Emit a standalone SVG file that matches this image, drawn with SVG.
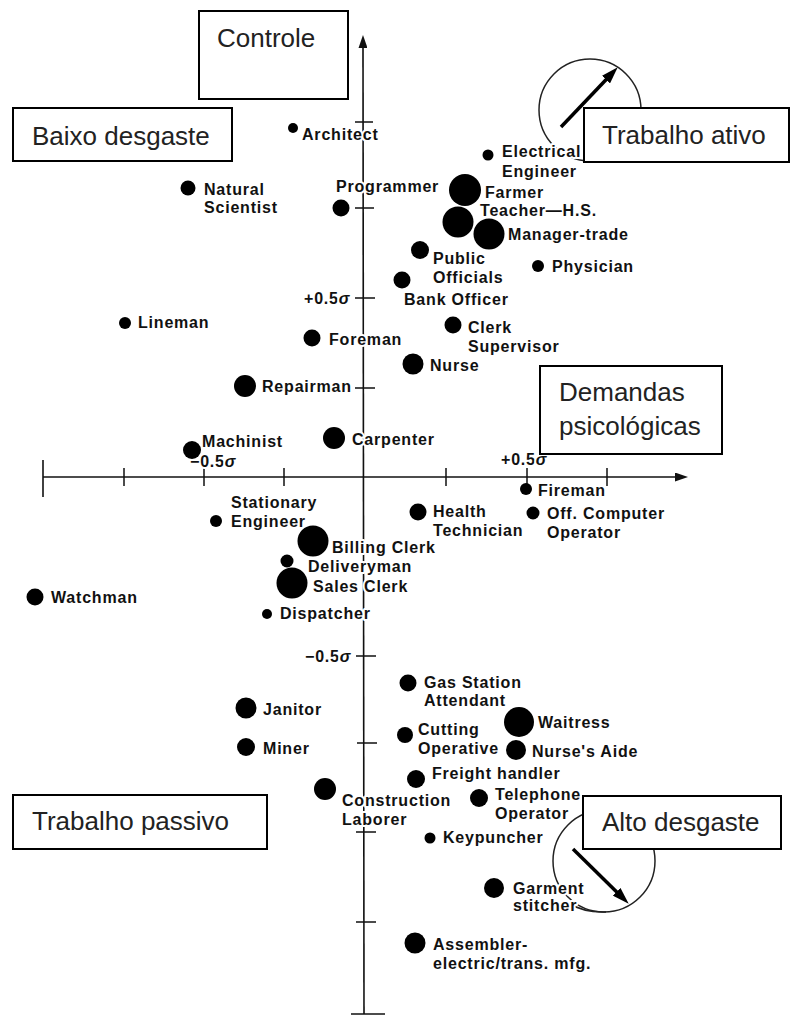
<svg xmlns="http://www.w3.org/2000/svg" width="792" height="1017" viewBox="0 0 792 1017">
<style>
.lbl{font-family:"Liberation Sans",Arial,sans-serif;font-size:16px;font-weight:bold;letter-spacing:0.8px;fill:#111;stroke:#fff;stroke-width:4px;stroke-linejoin:round;paint-order:stroke}
.dot{fill:#000}
.ax{stroke:#111;stroke-width:1.6;fill:none}
.tk{stroke:#111;stroke-width:1.5;fill:none}
.ring{stroke:#222;stroke-width:1.5;fill:none}
.thick{stroke:#000;stroke-width:3.5;fill:none}
.box rect{fill:#fff;stroke:#000;stroke-width:2}
.bt{font-family:"Liberation Sans",Arial,sans-serif;font-size:26px;fill:#222}
.sig{font-style:italic}
</style>
<defs>
<marker id="axh" markerUnits="userSpaceOnUse" markerWidth="13" markerHeight="9" refX="1" refY="4.5" orient="auto"><path d="M0,0 L13,4.5 L0,9 z" fill="#111"/></marker>
<marker id="thh" markerUnits="userSpaceOnUse" markerWidth="17" markerHeight="11" refX="2" refY="5.5" orient="auto"><path d="M0,0 L17,5.5 L0,11 z" fill="#000"/></marker>
</defs>
<rect width="792" height="1017" fill="#fff"/>
<g id="axes">
<line class="ax" x1="364" y1="1014" x2="363" y2="47" marker-end="url(#axh)"/>
<line class="ax" x1="43" y1="477" x2="676" y2="477" marker-end="url(#axh)"/>
<line class="ax" x1="43" y1="460" x2="43" y2="497" stroke-width="2"/>
<line class="ax" x1="351" y1="1014" x2="385" y2="1014" stroke-width="2"/>
<path class="tk" d="M124,468V486 M204,468V486 M284,468V486 M446,468V486 M527,468V486 M607,468V486"/>
<path class="tk" d="M355,122H373 M355,208H374 M355,298H375 M355,388H375 M356,656H376 M357,743H377 M356,832H376 M356,922H376"/>
<text class="lbl" x="304" y="304">+0.5<tspan class="sig">σ</tspan></text>
<text class="lbl" x="305" y="662">−0.5<tspan class="sig">σ</tspan></text>
<text class="lbl" x="190" y="467">−0.5<tspan class="sig">σ</tspan></text>
<text class="lbl" x="501" y="465">+0.5<tspan class="sig">σ</tspan></text>
</g>
<g id="connectors">
<circle class="ring" cx="590" cy="110" r="51"/>
<line class="thick" x1="561" y1="127" x2="607.4" y2="78.2" marker-end="url(#thh)"/>
<circle class="ring" cx="604" cy="861" r="51"/>
<path class="ring" d="M568,903 Q585,913 606,912"/>
<line class="thick" x1="573" y1="849" x2="618" y2="893.2" marker-end="url(#thh)"/>
</g>
<g id="n-architect"><text class="lbl" x="302" y="140">Architect</text><circle class="dot" cx="293" cy="128" r="5"/></g>
<g id="n-natural-scientist"><text class="lbl" x="204" y="195">Natural<tspan x="204" dy="18">Scientist</tspan></text><circle class="dot" cx="188" cy="188" r="7.5"/></g>
<g id="n-programmer"><text class="lbl" x="336" y="192">Programmer</text><circle class="dot" cx="341" cy="208" r="8.5"/></g>
<g id="n-electrical-engineer"><text class="lbl" x="502" y="157">Electrical<tspan x="502" dy="20">Engineer</tspan></text><circle class="dot" cx="488" cy="155" r="5.5"/></g>
<g id="n-farmer"><text class="lbl" x="485" y="198">Farmer</text><circle class="dot" cx="465" cy="190" r="16"/></g>
<g id="n-teacher"><text class="lbl" x="480" y="216">Teacher—H.S.</text><circle class="dot" cx="458" cy="222" r="15.5"/></g>
<g id="n-manager-trade"><text class="lbl" x="508" y="240">Manager-trade</text><circle class="dot" cx="489" cy="234" r="15.5"/></g>
<g id="n-public-officials"><text class="lbl" x="433" y="264">Public<tspan x="433" dy="19">Officials</tspan></text><circle class="dot" cx="420" cy="250" r="9"/></g>
<g id="n-bank-officer"><text class="lbl" x="404" y="305">Bank Officer</text><circle class="dot" cx="402" cy="280" r="8.5"/></g>
<g id="n-physician"><text class="lbl" x="552" y="272">Physician</text><circle class="dot" cx="538" cy="266" r="6"/></g>
<g id="n-lineman"><text class="lbl" x="138" y="328">Lineman</text><circle class="dot" cx="125" cy="323" r="6"/></g>
<g id="n-clerk-supervisor"><text class="lbl" x="468" y="333">Clerk<tspan x="468" dy="19">Supervisor</tspan></text><circle class="dot" cx="453" cy="325" r="8.5"/></g>
<g id="n-foreman"><text class="lbl" x="329" y="345">Foreman</text><circle class="dot" cx="312" cy="338" r="8.5"/></g>
<g id="n-nurse"><text class="lbl" x="430" y="371">Nurse</text><circle class="dot" cx="413" cy="364" r="10.5"/></g>
<g id="n-repairman"><text class="lbl" x="262" y="392">Repairman</text><circle class="dot" cx="245" cy="386" r="11"/></g>
<g id="n-carpenter"><text class="lbl" x="352" y="445">Carpenter</text><circle class="dot" cx="334" cy="438" r="11"/></g>
<g id="n-machinist"><text class="lbl" x="202" y="447">Machinist</text><circle class="dot" cx="192" cy="450" r="9"/></g>
<g id="n-fireman"><text class="lbl" x="538" y="496">Fireman</text><circle class="dot" cx="526" cy="489" r="6"/></g>
<g id="n-health-technician"><text class="lbl" x="433" y="517">Health<tspan x="433" dy="19">Technician</tspan></text><circle class="dot" cx="418" cy="512" r="8.5"/></g>
<g id="n-off-computer-operator"><text class="lbl" x="547" y="519">Off. Computer<tspan x="547" dy="19">Operator</tspan></text><circle class="dot" cx="533" cy="513" r="6.5"/></g>
<g id="n-stationary-engineer"><text class="lbl" x="231" y="508">Stationary<tspan x="231" dy="19">Engineer</tspan></text><circle class="dot" cx="216" cy="521" r="6"/></g>
<g id="n-billing-clerk"><text class="lbl" x="332" y="553">Billing Clerk</text><circle class="dot" cx="313" cy="541" r="15.5"/></g>
<g id="n-deliveryman"><text class="lbl" x="308" y="572">Deliveryman</text><circle class="dot" cx="287" cy="561" r="6.5"/></g>
<g id="n-sales-clerk"><text class="lbl" x="313" y="592">Sales Clerk</text><circle class="dot" cx="292" cy="583" r="15.5"/></g>
<g id="n-watchman"><text class="lbl" x="51" y="603">Watchman</text><circle class="dot" cx="35" cy="597" r="8.5"/></g>
<g id="n-dispatcher"><text class="lbl" x="280" y="619">Dispatcher</text><circle class="dot" cx="267" cy="614" r="5"/></g>
<g id="n-gas-station-attendant"><text class="lbl" x="424" y="688">Gas Station<tspan x="424" dy="18">Attendant</tspan></text><circle class="dot" cx="408" cy="683" r="8.5"/></g>
<g id="n-janitor"><text class="lbl" x="263" y="715">Janitor</text><circle class="dot" cx="246" cy="708" r="10.5"/></g>
<g id="n-waitress"><text class="lbl" x="538" y="728">Waitress</text><circle class="dot" cx="519" cy="722" r="15"/></g>
<g id="n-cutting-operative"><text class="lbl" x="418" y="735">Cutting<tspan x="418" dy="19">Operative</tspan></text><circle class="dot" cx="405" cy="735" r="8"/></g>
<g id="n-nurses-aide"><text class="lbl" x="532" y="757">Nurse's Aide</text><circle class="dot" cx="516" cy="750" r="10"/></g>
<g id="n-miner"><text class="lbl" x="263" y="754">Miner</text><circle class="dot" cx="246" cy="747" r="9"/></g>
<g id="n-freight-handler"><text class="lbl" x="432" y="779">Freight handler</text><circle class="dot" cx="416" cy="779" r="9"/></g>
<g id="n-construction-laborer"><text class="lbl" x="342" y="806">Construction<tspan x="342" dy="19">Laborer</tspan></text><circle class="dot" cx="325" cy="789" r="11"/></g>
<g id="n-telephone-operator"><text class="lbl" x="495" y="800">Telephone<tspan x="495" dy="19">Operator</tspan></text><circle class="dot" cx="479" cy="798" r="9"/></g>
<g id="n-keypuncher"><text class="lbl" x="443" y="843">Keypuncher</text><circle class="dot" cx="430" cy="838" r="5.5"/></g>
<g id="n-garment-stitcher"><text class="lbl" x="513" y="894">Garment<tspan x="513" dy="17">stitcher</tspan></text><circle class="dot" cx="494" cy="888" r="10"/></g>
<g id="n-assembler"><text class="lbl" x="433" y="950">Assembler-<tspan x="433" dy="19">electric/trans. mfg.</tspan></text><circle class="dot" cx="415" cy="943" r="10.5"/></g>
<g id="box-controle" class="box"><rect x="199" y="11" width="149" height="88"/><text class="bt" x="217" y="47">Controle</text></g>
<g id="box-baixo-desgaste" class="box"><rect x="13" y="108" width="219" height="53"/><text class="bt" x="32" y="145">Baixo desgaste</text></g>
<g id="box-trabalho-ativo" class="box"><rect x="584" y="108" width="205" height="54"/><text class="bt" x="602" y="144">Trabalho ativo</text></g>
<g id="box-demandas" class="box"><rect x="540" y="366" width="182" height="88"/><text class="bt" x="559" y="401">Demandas<tspan x="559" dy="34">psicológicas</tspan></text></g>
<g id="box-trabalho-passivo" class="box"><rect x="13" y="795" width="254" height="54"/><text class="bt" x="32" y="830">Trabalho passivo</text></g>
<g id="box-alto-desgaste" class="box"><rect x="583" y="796" width="198" height="53"/><text class="bt" x="602" y="831">Alto desgaste</text></g>
</svg>
